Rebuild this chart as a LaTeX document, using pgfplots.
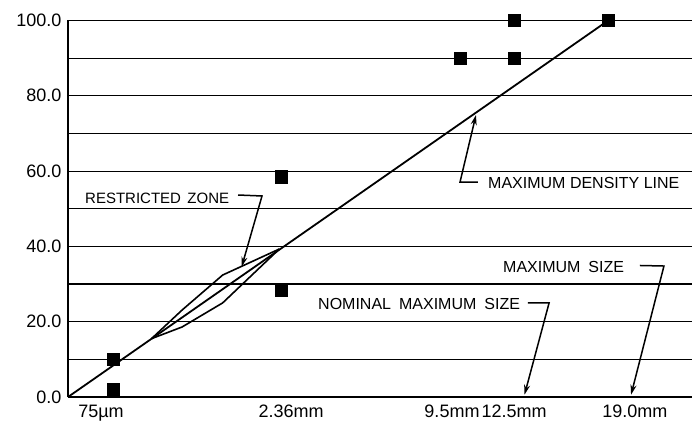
\documentclass[border=0pt]{standalone}
\usepackage{fontspec}
\setmainfont{Liberation Sans}
\usepackage{pgfplots}
\pgfplotsset{compat=1.18}
\usetikzlibrary{arrows.meta}
\begin{document}
\begin{tikzpicture}
\useasboundingbox (0,0) rectangle (692pt,423pt);
\begin{axis}[
 at={(68pt,26pt)}, anchor=south west,
 scale only axis, width=624pt, height=376.5pt,
 xmin=0, xmax=4.3454, ymin=0, ymax=100,
 axis x line=bottom, axis y line=left,
 axis line style={-},
 x axis line style={line width=2.4pt},
 y axis line style={line width=2pt},
 xtick={0.2298,1.553,2.674,3.106,3.948},
 xticklabels={75µm,2.36mm,9.5mm,12.5mm,19.0mm},
 ytick={0,20,...,100},
 yticklabels={0.0,20.0,40.0,60.0,80.0,100.0},
 minor ytick={10,30,...,90},
 ymajorgrids, yminorgrids,
 major grid style={line width=1.15pt,black},
 minor grid style={line width=1.15pt,black},
 major tick length=0pt, minor tick length=0pt,
 tick style={draw=none},
 ticklabel style={font=\fontsize{18}{20}\selectfont},
 xticklabel style={anchor=base, yshift=-20pt, inner sep=0pt},
 yticklabel style={anchor=east, xshift=-3pt},
 clip=false,
]
% maximum density line
\addplot[line width=1.8pt, black] coordinates {(0,0) (3.7616,100)};
% restricted zone boundaries
\addplot[line width=1.6pt, black] coordinates {(0.5817,15.5) (0.7946,23.1) (1.0773,32.4) (1.4713,39.3)};
\addplot[line width=1.6pt, black] coordinates {(0.5817,15.5) (0.7946,18.6) (1.0773,25.0) (1.4713,39.3)};
% control points
\addplot[only marks, mark=square*, mark size=6.2pt, black] coordinates {
 (0.313,10) (0.313,2.0) (1.483,58.5) (1.483,28.4)
 (2.730,90) (3.106,90) (3.106,100) (3.760,100)};
% annotations
\node[anchor=west, inner sep=0, font=\fontsize{15}{17}\selectfont] at (axis cs:0.1184,52.72) {RESTRICTED\hspace{0.43em}ZONE};
\draw[line width=1.5pt, -{Stealth[length=10pt,width=6pt]}] (axis cs:1.184,53.65) -- (axis cs:1.351,53.39) -- (axis cs:1.2096,34.61);

\node[anchor=west, inner sep=0, font=\fontsize{16}{18}\selectfont] at (axis cs:2.925,56.97) {MAXIMUM DENSITY LINE};
\draw[line width=1.5pt, -{Stealth[length=10pt,width=6pt]}] (axis cs:2.855,57.1) -- (axis cs:2.730,57.1) -- (axis cs:2.841,74.9);

\node[anchor=west, inner sep=0, font=\fontsize{16}{18}\selectfont] at (axis cs:1.741,24.70) {NOMINAL\hspace{0.5em}MAXIMUM\hspace{0.5em}SIZE};
\draw[line width=1.5pt, -{Stealth[length=10pt,width=6pt]}] (axis cs:3.203,24.97) -- (axis cs:3.350,24.97) -- (axis cs:3.179,0.6);

\node[anchor=west, inner sep=0, font=\fontsize{16}{18}\selectfont] at (axis cs:3.029,34.4) {MAXIMUM\hspace{0.5em}SIZE};
\draw[line width=1.5pt, -{Stealth[length=10pt,width=6pt]}] (axis cs:3.983,34.93) -- (axis cs:4.150,34.79) -- (axis cs:3.921,0.6);
\end{axis}
\end{tikzpicture}
\end{document}
